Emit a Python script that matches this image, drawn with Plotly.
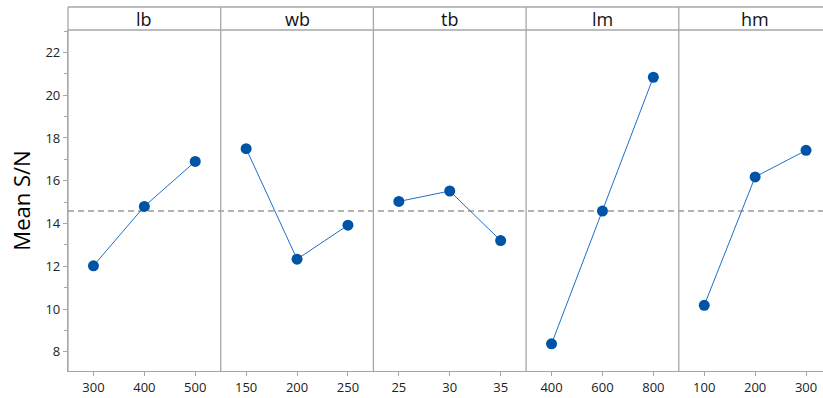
import numpy as np
import plotly.graph_objects as go

factors = ["lb", "wb", "tb", "lm", "hm"]
levels = {
    "lb": [300, 400, 500],
    "wb": [150, 200, 250],
    "tb": [25, 30, 35],
    "lm": [400, 600, 800],
    "hm": [100, 200, 300],
}
mean_sn = {
    "lb": [12.02, 14.80, 16.90],
    "wb": [17.50, 12.33, 13.92],
    "tb": [15.03, 15.52, 13.20],
    "lm": [8.37, 14.58, 20.84],
    "hm": [10.17, 16.18, 17.42],
}
y_ticks = [8, 10, 12, 14, 16, 18, 20, 22]

W, H = 823, 398
ML, MR, MT, MB = 68, 0, 30, 27
plot_w = W - ML - MR
plot_h = H - MT - MB
strip_top_px = 7
strip_top = 1 + (MT - strip_top_px) / plot_h

panel_px = 152.7
axis_col = "#a6a6a6"
blue_m = "#0054A6"
blue_l = "#1f6fc7"

grand_mean = float(np.mean([v for f in factors for v in mean_sn[f]]))

fig = go.Figure()
layout = {}
shapes = []
annotations = []
for i, f in enumerate(factors):
    x0px = i * panel_px
    x1px = min((i + 1) * panel_px, plot_w)
    d0, d1 = x0px / plot_w, x1px / plot_w
    lv = levels[f]
    step = lv[1] - lv[0]
    r0 = lv[0] - step / 2
    full_r1 = lv[-1] + step / 2
    r1 = r0 + (full_r1 - r0) * (x1px - x0px) / panel_px
    name = "xaxis" if i == 0 else f"xaxis{i+1}"
    xref = "x" if i == 0 else f"x{i+1}"
    layout[name] = dict(
        domain=[d0, d1], range=[r0, r1], anchor="y",
        tickmode="array", tickvals=lv, ticktext=[str(v) for v in lv],
        ticks="outside", ticklen=4, tickcolor=axis_col,
        showline=True, linecolor=axis_col, linewidth=1.3,
        showgrid=False, zeroline=False,
        tickfont=dict(family="Open Sans", size=13, color="#222222"),
    )
    fig.add_trace(go.Scatter(
        x=lv, y=mean_sn[f], xaxis=xref, yaxis="y", mode="lines+markers",
        line=dict(color=blue_l, width=1),
        marker=dict(color=blue_m, size=11),
        showlegend=False, hoverinfo="skip",
    ))
    if i > 0:
        shapes.append(dict(type="line", xref="paper", yref="paper",
                           x0=d0, x1=d0, y0=0, y1=strip_top,
                           line=dict(color=axis_col, width=1.3)))
    annotations.append(dict(
        text=f, xref="paper", yref="paper",
        x=(i + 0.5) * panel_px / plot_w, y=(1 + strip_top) / 2,
        xanchor="center", yanchor="middle", showarrow=False,
        font=dict(family="Open Sans", size=18, color="#111111"),
    ))

shapes.append(dict(type="line", xref="paper", yref="paper", x0=0, x1=0,
                   y0=0, y1=strip_top, line=dict(color=axis_col, width=1.3)))
shapes.append(dict(type="line", xref="paper", yref="paper", x0=0, x1=1,
                   y0=strip_top, y1=strip_top, line=dict(color=axis_col, width=1.3)))
shapes.append(dict(type="line", xref="paper", yref="paper", x0=0, x1=1,
                   y0=1, y1=1, line=dict(color=axis_col, width=1.3)))
shapes.append(dict(type="line", xref="paper", yref="y", x0=0, x1=1,
                   y0=grand_mean, y1=grand_mean, layer="below",
                   line=dict(color="#9a9a9a", width=1.5, dash="6px,4px")))

layout["yaxis"] = dict(
    domain=[0, 1], range=[7.1, 23.05], anchor="x",
    tickmode="array", tickvals=y_ticks, ticktext=[str(v) for v in y_ticks],
    ticks="outside", ticklen=4, tickcolor=axis_col,
    minor=dict(dtick=1, tick0=7, ticks="outside", ticklen=3, tickcolor=axis_col),
    showline=True, linecolor=axis_col, linewidth=1.3,
    showgrid=False, zeroline=False,
    tickfont=dict(family="Open Sans", size=13, color="#222222"),
    title=dict(text="Mean S/N", font=dict(family="Open Sans", size=22, color="#000000"),
               standoff=8),
)

fig.update_layout(
    width=W, height=H,
    margin=dict(l=ML, r=MR, t=MT, b=MB, pad=0),
    paper_bgcolor="white", plot_bgcolor="white",
    shapes=shapes, annotations=annotations,
    **layout,
)

fig.write_html("out.html", config={"displayModeBar": False},
               post_script="document.body.style.margin='0';document.body.style.overflow='hidden';")
